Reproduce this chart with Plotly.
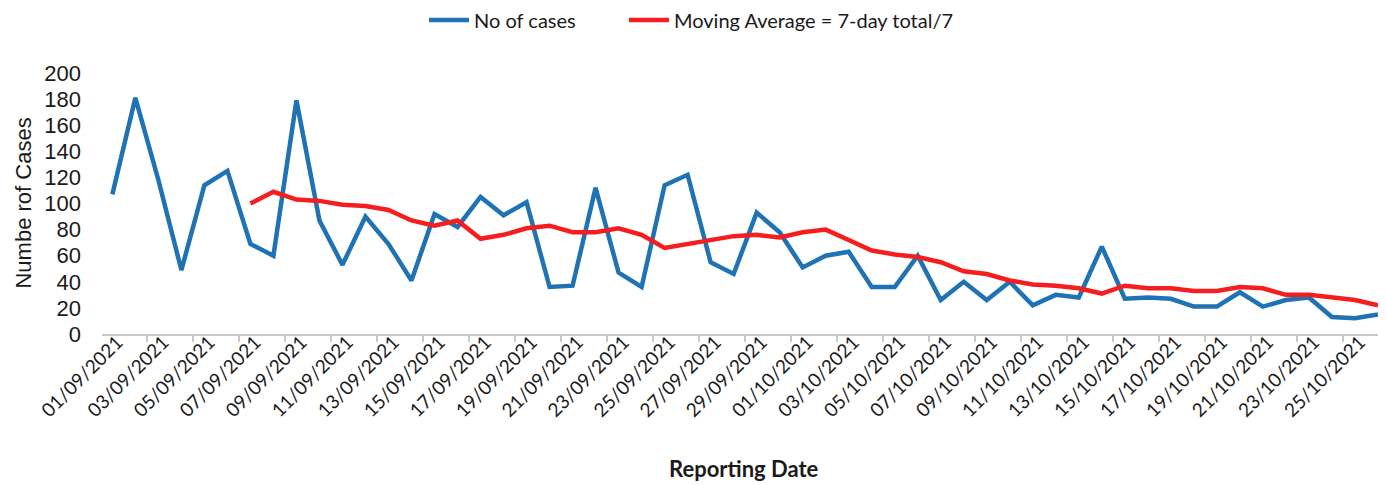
import plotly.graph_objects as go

dates = [
    "01/09/2021", "02/09/2021", "03/09/2021", "04/09/2021", "05/09/2021", "06/09/2021", "07/09/2021",
    "08/09/2021", "09/09/2021", "10/09/2021", "11/09/2021", "12/09/2021", "13/09/2021", "14/09/2021",
    "15/09/2021", "16/09/2021", "17/09/2021", "18/09/2021", "19/09/2021", "20/09/2021", "21/09/2021",
    "22/09/2021", "23/09/2021", "24/09/2021", "25/09/2021", "26/09/2021", "27/09/2021", "28/09/2021",
    "29/09/2021", "30/09/2021", "01/10/2021", "02/10/2021", "03/10/2021", "04/10/2021", "05/10/2021",
    "06/10/2021", "07/10/2021", "08/10/2021", "09/10/2021", "10/10/2021", "11/10/2021", "12/10/2021",
    "13/10/2021", "14/10/2021", "15/10/2021", "16/10/2021", "17/10/2021", "18/10/2021", "19/10/2021",
    "20/10/2021", "21/10/2021", "22/10/2021", "23/10/2021", "24/10/2021", "25/10/2021", "26/10/2021",
]

cases = [107, 181, 118, 49, 114, 125, 69, 60, 179, 87,
         53, 90, 69, 41, 92, 82, 105, 91, 101, 36,
         37, 112, 47, 36, 114, 122, 55, 46, 93, 78,
         51, 60, 63, 36, 36, 60, 26, 40, 26, 40,
         22, 30, 28, 67, 27, 28, 27, 21, 21, 32,
         21, 26, 28, 13, 12, 15]

# 7-day moving average, starting on the 7th day (07/09/2021)
moving_avg = [100, 109, 103, 102, 99, 98, 95, 87, 83, 87,
              73, 76, 81, 83, 78, 78, 81, 76, 66, 69,
              72, 75, 76, 74, 78, 80, 72, 64, 61, 59,
              55, 48, 46, 41, 38, 37, 35, 31, 37, 35,
              35, 33, 33, 36, 35, 30, 30, 28, 26, 22]

y_ticks = [0, 20, 40, 60, 80, 100, 120, 140, 160, 180, 200]

BLUE = "#1f72b4"
RED = "#f51d1d"

idx = list(range(len(dates)))
ma_start = len(dates) - len(moving_avg)
ma_idx = idx[ma_start:]

label_idx = idx[::2]
label_txt = dates[::2]
boundary_ticks = [i - 0.5 for i in idx[::2]]

fig = go.Figure()
fig.add_trace(go.Scatter(
    x=idx, y=cases, mode="lines", name="No of cases",
    line=dict(color=BLUE, width=4.5), text=dates, legend="legend",
    hovertemplate="%{text}: %{y}<extra></extra>",
))
fig.add_trace(go.Scatter(
    x=ma_idx, y=moving_avg, mode="lines", name="Moving Average = 7-day total/7",
    line=dict(color=RED, width=4.5), text=dates[ma_start:], legend="legend2",
    hovertemplate="%{text}: %{y}<extra></extra>",
))

legend_font = dict(family="Lato", size=20, color="#1a1a1a")

# page body has an 8px default margin, so the figure is sized/offset accordingly
fig.update_layout(
    width=1378, height=477,
    margin=dict(l=94, r=0, t=65, b=151, autoexpand=False),
    paper_bgcolor="white", plot_bgcolor="white",
    showlegend=True,
    legend=dict(orientation="h", x=0.2508, xanchor="left", y=1.203, yanchor="middle",
                font=legend_font, itemwidth=40, bgcolor="rgba(0,0,0,0)"),
    legend2=dict(orientation="h", x=0.4065, xanchor="left", y=1.203, yanchor="middle",
                 font=legend_font, itemwidth=40, bgcolor="rgba(0,0,0,0)"),
    xaxis=dict(
        range=[-0.45, 55.35], showgrid=False, zeroline=False, automargin=False,
        showline=True, linecolor="#c8c8c8", linewidth=1.5,
        tickmode="array", tickvals=label_idx, ticktext=label_txt,
        ticks="", tickangle=-45,
        ticklabelstandoff=-12, ticklabelshift=5,
        tickfont=dict(family="Lato", size=19, color="#1a1a1a"),
        minor=dict(tickmode="array", tickvals=boundary_ticks, ticks="outside",
                   ticklen=6, tickcolor="#c8c8c8", tickwidth=1.5, showgrid=False),
    ),
    yaxis=dict(
        range=[0, 200], showgrid=False, zeroline=False, showline=False, automargin=False,
        tickmode="array", tickvals=y_ticks, ticks="",
        ticklabelstandoff=20,
        tickfont=dict(family="Liberation Sans, Arial", size=22, color="#1a1a1a"),
    ),
    annotations=[
        dict(text="Reporting Date", xref="paper", yref="paper", x=0.5, y=-0.515,
             xanchor="center", yanchor="middle", showarrow=False,
             font=dict(family="Lato", size=22, color="#1a1a1a", weight="bold")),
        dict(text="Numbe rof Cases", xref="paper", yref="paper", x=-0.0615, y=0.5,
             xanchor="center", yanchor="middle", showarrow=False, textangle=-90,
             font=dict(family="Liberation Sans, Arial", size=22, color="#1a1a1a")),
    ],
)

fig.write_html("out.html")
